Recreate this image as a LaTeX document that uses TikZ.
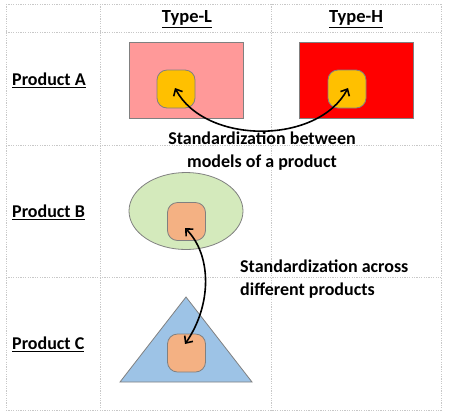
\documentclass[tikz,border=0pt]{standalone}
\usepackage{fontspec}
\setmainfont{Carlito}
\usetikzlibrary{arrows.meta,shapes.geometric}
\definecolor{gridc}{HTML}{C8C8C8}
\definecolor{edgec}{HTML}{808080}
\definecolor{pinkc}{HTML}{FF9999}
\definecolor{redc}{HTML}{FF0000}
\definecolor{goldc}{HTML}{FFC000}
\definecolor{greenc}{HTML}{D4EABC}
\definecolor{orangec}{HTML}{F4B183}
\definecolor{bluec}{HTML}{9DC3E6}
\tikzset{
  gridline/.style={draw=gridc, line width=0.6bp, dash pattern=on 1.2bp off 1.2bp},
  lbl/.style={font=\bfseries\fontsize{18bp}{22bp}\selectfont, inner sep=0pt},
  hdr/.style={font=\bfseries\fontsize{18.5bp}{22bp}\selectfont, inner sep=0pt},
  shapebox/.style={draw=edgec, line width=0.8bp},
  part/.style={draw=edgec, line width=0.8bp, rounded corners=10bp, minimum width=38bp, minimum height=38bp, inner sep=0pt},
  link/.style={line width=1.6bp, {Straight Barb[length=5.5bp,width=10bp]}-{Straight Barb[length=5.5bp,width=10bp]}},
  note/.style={font=\bfseries\fontsize{18bp}{23bp}\selectfont, inner sep=0pt, align=center}
}
\begin{document}
\begin{tikzpicture}[x=1bp,y=-1bp]
\useasboundingbox (0,0) rectangle (471,412);
% grid
\foreach \x in {6,100,271,441} \draw[gridline] (\x,4) -- (\x,410);
\foreach \y in {4,32,145,277,410} \draw[gridline] (6,\y) -- (441,\y);
% headers
\node[hdr] (tl) at (187,19) {\underline{Type-L}};
\node[hdr] (th) at (356,19) {\underline{Type-H}};
\node[lbl, anchor=west] (pa) at (12,80) {\underline{Product A}};
\node[lbl, anchor=west] (pb) at (12,212) {\underline{Product B}};
\node[lbl, anchor=west] (pc) at (12,344) {\underline{Product C}};
% product A
\node[shapebox, fill=pinkc, minimum width=114bp, minimum height=76bp, inner sep=0pt] (al) at (186,80) {};
\node[shapebox, fill=redc, minimum width=114bp, minimum height=76bp, inner sep=0pt] (ah) at (356,80) {};
\node[part, fill=goldc] (pl) at (176,89) {};
\node[part, fill=goldc] (ph) at (347,89) {};
\coordinate (plc) at (175,88);
\coordinate (phc) at (348,88);
\draw[link] (plc) .. controls (205,145) and (318,145) .. (phc);
\node[note] (n1) at (262,151.5) {Standardization between\\models of a product};
% product B
\node[shapebox, fill=greenc, ellipse, minimum width=114bp, minimum height=77bp, inner sep=0pt] (eb) at (186,211) {};
\node[part, fill=orangec] (pbp) at (186.5,221.5) {};
% product C
\coordinate (t1) at (186,297);
\coordinate (t2) at (120,382);
\coordinate (t3) at (252,382);
\filldraw[shapebox, fill=bluec] (t1) -- (t2) -- (t3) -- cycle;
\node[part, fill=orangec] (pcp) at (186.5,353) {};
\coordinate (bc) at (185,228);
\coordinate (cc) at (185,344);
\draw[link] (bc) .. controls (212,255) and (212,305) .. (cc);
\node[note, align=left, anchor=west] (n2) at (240,279) {Standardization across\\different products};
\end{tikzpicture}
\end{document}
